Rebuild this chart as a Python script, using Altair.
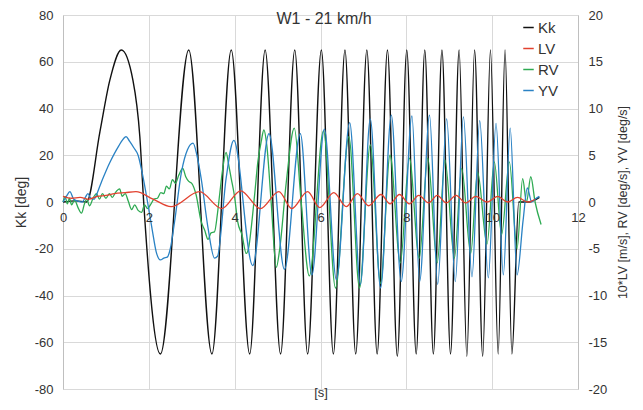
import altair as alt
import pandas as pd

TITLE = "W1 - 21 km/h"
X_LABEL = "[s]"
Y_LEFT_LABEL = "Kk [deg]"
Y_RIGHT_LABEL = "10*LV [m/s], RV [deg/s], YV [deg/s]"

SERIES = ["Kk", "LV", "RV", "YV"]
COLORS = ["#111111", "#e2412f", "#2eaa52", "#2a82c4"]

X_TICKS = [0, 2, 4, 6, 8, 10, 12]
Y_LEFT_TICKS = [-80, -60, -40, -20, 0, 20, 40, 60, 80]
Y_RIGHT_TICKS = [-20, -15, -10, -5, 0, 5, 10, 15, 20]

# Kk (left axis, deg): (time s, value)
kk = [(0, 0), (0.3, 0.5), (0.55, 0), (0.86, 30), (1.09, 52), (1.36, 65), (1.63, 52),
      (1.79, 28), (1.88, 0), (2.27, -65), (2.93, 65), (3.47, -65), (3.92, 65),
      (4.35, -65), (4.71, 65), (5.07, -65), (5.40, 65), (5.70, -65), (6.02, 65),
      (6.30, -65), (6.57, 65), (6.82, -65), (7.08, 65), (7.32, -65), (7.56, 65),
      (7.79, -66), (8.01, 65), (8.23, -65), (8.43, 65), (8.63, -65), (8.83, 65),
      (9.03, -65), (9.23, 65), (9.41, -66), (9.59, 65), (9.78, -66), (9.96, 65),
      (10.14, -65), (10.30, 65), (10.46, -65), (10.62, 0), (10.85, 0), (11.1, 2)]

# 10*LV (right axis)
lv = [(0, 0.6), (0.2, 0.4), (0.4, 0.5), (0.6, 0.3), (0.8, 0.6), (1.0, 0.7), (1.2, 0.9),
      (1.45, 1.0), (1.7, 1.1), (2.1, 0.3), (2.52, -0.5), (3.18, 1.1), (3.70, -0.7),
      (4.14, 1.2), (4.60, -0.7), (5.03, 1.1), (5.33, -0.7), (5.70, 1.1), (5.98, -0.6),
      (6.31, 1.0), (6.60, -0.5), (6.86, 0.9), (7.12, -0.4), (7.41, 0.8), (7.62, -0.2),
      (7.84, 0.8), (8.07, -0.2), (8.29, 0.7), (8.52, -0.1), (8.72, 0.7), (8.93, -0.1),
      (9.16, 0.7), (9.38, -0.1), (9.62, 0.6), (9.88, 0.0), (10.13, 0.6), (10.36, 0.0),
      (10.59, 0.5), (10.83, 0.0), (11.0, 0.3)]

# RV (right axis, deg/s)
rv = [(0, 0), (0.05, 0.6), (0.1, -0.2), (0.15, 0.4), (0.2, -0.3), (0.27, 0.2), (0.35, -0.6),
      (0.43, -1.2), (0.5, -0.2), (0.55, 0.3), (0.62, -0.4), (0.7, 0.4), (0.78, 0.9),
      (0.85, 0.3), (0.92, 0.9), (1.0, 0.4), (1.08, 0.9), (1.15, 0.5), (1.22, 1.0),
      (1.32, 1.4), (1.38, 0.6), (1.45, 0.9), (1.52, 0.1), (1.6, -0.8), (1.67, -0.3),
      (1.75, -0.9), (1.83, -1.1), (1.9, -0.3), (1.97, -0.7), (2.05, -0.2), (2.12, 0.3),
      (2.2, 0.4), (2.28, 1.0), (2.35, 0.9), (2.41, 1.7), (2.48, 1.4), (2.55, 2.4),
      (2.62, 2.0), (2.7, 2.9), (2.79, 3.6), (2.86, 2.7), (2.93, 2.2), (3.0, 2.0),
      (3.1, 0.8), (3.22, -2.1), (3.3, -3.0), (3.38, -4.0), (3.45, -3.3), (3.53, -3.2),
      (3.6, -1.2), (3.65, 0.8), (3.72, 3.5), (3.80, 5.3), (3.86, 4.0), (3.92, 2.5),
      (4.0, 0.5), (4.07, -2.1), (4.17, -3.5), (4.27, -5.5), (4.33, -4.8), (4.39, -2.6),
      (4.47, 1.0), (4.54, 4.3), (4.62, 6.5), (4.68, 7.7), (4.75, 6.0), (4.85, 0.0),
      (4.97, -7.0), (5.05, -5.0), (5.2, 2.0), (5.39, 7.9), (5.55, 0.0), (5.74, -7.9),
      (6.07, 7.6), (6.35, -9.2), (6.66, 7.0), (6.91, -9.2), (7.16, 6.1), (7.40, -8.7),
      (7.62, 5.0), (7.86, -6.5), (8.07, 4.7), (8.30, -6.0), (8.50, 4.7), (8.72, -6.5),
      (8.90, 4.5), (9.12, -6.0), (9.29, 3.6), (9.50, -5.5), (9.66, 3.2), (9.88, -4.5),
      (10.05, 4.3), (10.22, -3.5), (10.40, 4.3), (10.58, -5.0), (10.71, 2.5),
      (10.8, 0.0), (10.9, 2.7), (11.0, 0.0), (11.14, -2.4)]

# YV (right axis, deg/s)
yv = [(0, 0), (0.08, 0.6), (0.16, 1.1), (0.25, 0.3), (0.35, 0.1), (0.45, 0.0), (0.52, 0.5),
      (0.58, 0.9), (0.65, 0.4), (0.72, 0.3), (0.8, 1.0), (0.9, 2.2), (1.0, 3.3),
      (1.1, 4.3), (1.2, 5.2), (1.3, 6.0), (1.38, 6.6), (1.47, 7.0), (1.55, 6.5),
      (1.65, 5.8), (1.75, 5.0), (1.85, 3.0), (1.97, 0.0), (2.08, -3.0), (2.17, -5.3),
      (2.27, -6.2), (2.35, -6.0), (2.43, -5.9), (2.5, -5.0), (2.6, -2.1), (2.76, 3.2),
      (2.9, 5.6), (3.03, 6.3), (3.12, 5.0), (3.22, 2.5), (3.38, -2.8), (3.53, -6.0),
      (3.6, -5.8), (3.80, 2.5), (3.98, 6.6), (4.42, -6.8), (4.80, 7.3), (5.16, -7.2),
      (5.53, 7.3), (5.80, -7.8), (6.09, 7.8), (6.37, -8.3), (6.68, 8.5), (6.93, -8.8),
      (7.16, 8.9), (7.40, -9.2), (7.65, 9.3), (7.88, -8.5), (8.13, 9.2), (8.31, -8.5),
      (8.54, 9.3), (8.73, -8.8), (8.94, 8.9), (9.14, -8.5), (9.33, 9.1), (9.53, -8.0),
      (9.71, 8.7), (9.91, -8.1), (10.09, 8.4), (10.26, -7.8), (10.42, 7.9),
      (10.58, -7.8), (10.72, -2.0), (10.82, 1.5), (10.92, 0.0), (11.0, 0.3), (11.1, 0.6)]


def frame(points, name):
    return pd.DataFrame({"t": [p[0] for p in points],
                         "v": [p[1] for p in points],
                         "series": name})


FONT = "Liberation Sans"
TXT = "#333333"
GRID = "#d9d9d9"
DOMAIN = "#bfbfbf"
PLAIN = "datum.value + ''"

color = alt.Color(
    "series:N",
    scale=alt.Scale(domain=SERIES, range=COLORS),
    legend=alt.Legend(orient="none", legendX=458, legendY=5, title=None,
                      symbolType="stroke", symbolSize=110, symbolStrokeWidth=1.5,
                      labelFontSize=15, labelOffset=2, rowPadding=5,
                      labelColor=TXT, labelFont=FONT, padding=0),
)

x_grid = alt.X("t:Q", scale=alt.Scale(domain=[0, 12], nice=False),
               axis=alt.Axis(orient="top", values=X_TICKS, grid=True, gridColor=GRID,
                             labels=False, ticks=False, domain=False, title=None))

x_lab = alt.X("t:Q", scale=alt.Scale(domain=[0, 12], nice=False),
              axis=alt.Axis(orient="bottom", values=X_TICKS, grid=False, domain=False,
                            ticks=False, labelPadding=9, offset=-187, labelFlush=False,
                            labelExpr=PLAIN,
                            title=X_LABEL, titleY=184, titleFontWeight="normal",
                            titleFontSize=13, zindex=1))

y_left = alt.Y("v:Q", scale=alt.Scale(domain=[-80, 80], nice=False),
               axis=alt.Axis(orient="left", values=Y_LEFT_TICKS, grid=True, gridColor=GRID,
                             domainColor=DOMAIN, ticks=False, labelPadding=10,
                             labelExpr=PLAIN,
                             title=Y_LEFT_LABEL, titleFontWeight="normal", titleFontSize=14,
                             titleAngle=270, titleX=-42, titleY=187,
                             titleAlign="center", titleBaseline="middle"))

y_right = alt.Y("v:Q", scale=alt.Scale(domain=[-20, 20], nice=False),
                axis=alt.Axis(orient="right", values=Y_RIGHT_TICKS, grid=False,
                              domainColor=DOMAIN, ticks=False, labelPadding=10,
                              labelExpr=PLAIN,
                              title=Y_RIGHT_LABEL, titleFontWeight="normal", titleFontSize=12.5,
                              titleAngle=270, titleX=44, titleY=187,
                              titleAlign="center", titleBaseline="middle"))

kk_layer = alt.Chart(frame(kk, "Kk")).mark_line(
    interpolate="monotone", strokeWidth=1.4).encode(x=x_grid, y=y_left, color=color)


def right_line(points, name, w=1.3):
    return alt.Chart(frame(points, name)).mark_line(
        interpolate="monotone", strokeWidth=w).encode(x=x_lab, y=y_right, color=color)


right = alt.layer(right_line(rv, "RV"), right_line(yv, "YV"), right_line(lv, "LV"))

title_layer = alt.Chart(pd.DataFrame({"label": [TITLE]})).mark_text(
    font=FONT, fontSize=16, color=TXT, baseline="middle", align="center"
).encode(text="label:N", x=alt.value(261), y=alt.value(4))

chart = alt.layer(kk_layer, right, title_layer).resolve_scale(
    y="independent").resolve_axis(x="independent").properties(
    width=515, height=374,
    autosize=alt.AutoSizeParams(type="none"),
    padding={"left": 55, "top": 7, "right": 57, "bottom": 13},
).configure_view(stroke=None).configure_axis(
    labelFont=FONT, titleFont=FONT, labelFontSize=13, titleFontSize=12,
    labelColor=TXT, titleColor=TXT)

chart.save("out.html", embed_options={"renderer": "svg", "actions": False})
